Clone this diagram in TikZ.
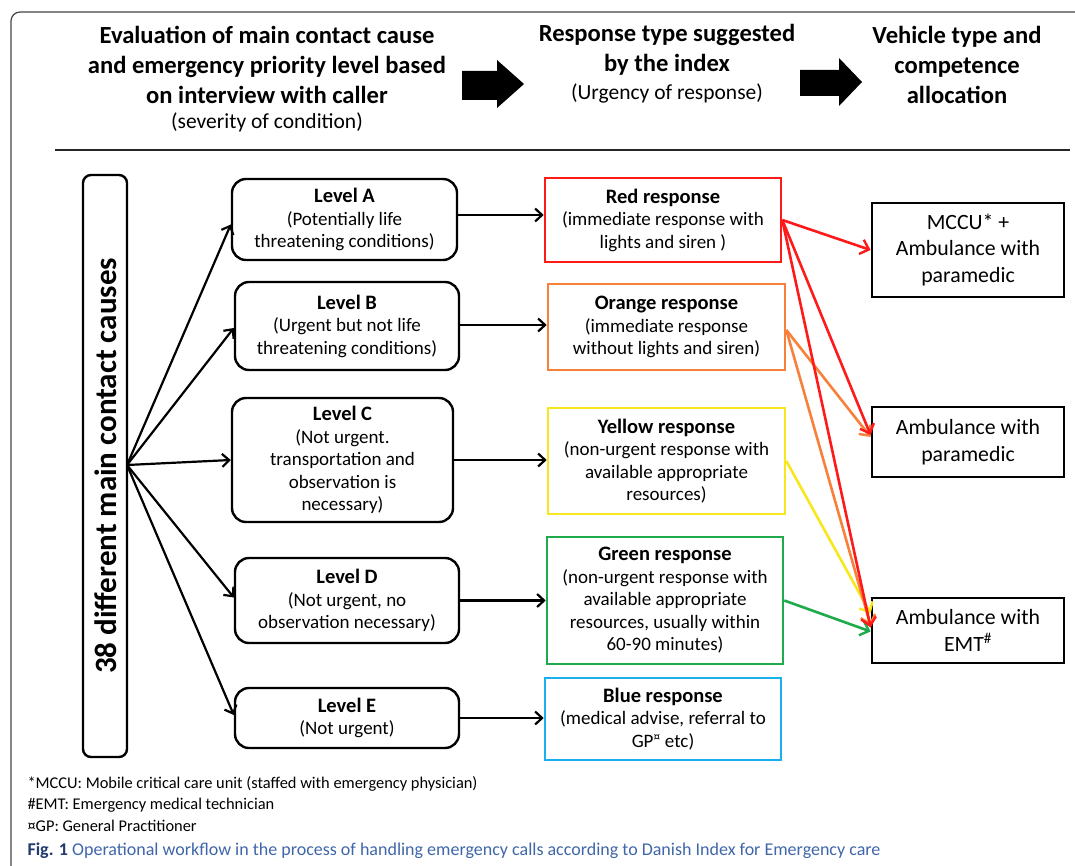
\documentclass[tikz,border=0pt]{standalone}
\usepackage{fontspec}
\setmainfont{Carlito}
\usetikzlibrary{arrows.meta}
\definecolor{cred}{HTML}{FF1A1A}
\definecolor{corange}{HTML}{F7803A}
\definecolor{cyellow}{HTML}{F8E71C}
\definecolor{cgreen}{HTML}{1FAA4B}
\definecolor{cblue}{HTML}{1AAFEF}
\definecolor{capdark}{HTML}{22396B}
\definecolor{capblue}{HTML}{3F66A8}
\definecolor{frame}{HTML}{444444}
\newcommand\bxtitle[1]{{\fontsize{20.5}{23}\selectfont\bfseries #1}}
\begin{document}
\begin{tikzpicture}[x=1pt,y=-1pt,
  lvl/.style={draw, line width=2.4pt, rounded corners=14pt, align=center, inner sep=0pt, font=\fontsize{19}{22.5}\selectfont},
  resp/.style={draw, line width=2.6pt, align=center, inner sep=0pt, font=\fontsize{19}{22.5}\selectfont},
  veh/.style={draw, line width=2.8pt, align=center, inner sep=0pt, minimum width=192pt, font=\fontsize{21.8}{26.5}\selectfont},
  hdr/.style={align=center, font=\fontsize{24.6}{30}\selectfont\bfseries},
  sub/.style={align=center, font=\fontsize{21.5}{24}\selectfont},
  arr/.style={line width=2.2pt, -{Straight Barb[length=7pt,width=13pt,line width=2.2pt]}},
  carr/.style={line width=2.6pt, -{Straight Barb[length=8pt,width=15pt,line width=2.4pt]}},
  foot/.style={anchor=west, font=\fontsize{16.4}{18}\selectfont},
]
\useasboundingbox (0,0) rectangle (1075,866);
% frame
\draw[frame, line width=1.2pt, rounded corners=9pt] (11,866) -- (11,12) -- (1075,12);
\draw[line width=1.5pt, black!85] (55,150) -- (1070,150);

% header
\node[hdr] (h1) at (267,65) {Evaluation of main contact cause\\and emergency priority level based\\on interview with caller};
\node[sub] (s1) at (267,122) {(severity of condition)};
\node[hdr] (h2) at (667,50) {Response type suggested\\by the index};
\node[sub] (s2) at (667,93) {(Urgency of response)};
\node[hdr] (h3) at (957,65) {Vehicle type and\\competence\\allocation};
\fill (462,71) -- (497,71) -- (497,60) -- (524,84) -- (497,108) -- (497,100) -- (462,100) -- cycle;
\fill (800,70) -- (839,70) -- (839,58) -- (862,82) -- (839,106) -- (839,96) -- (800,96) -- cycle;

% left tall box
\node[draw, line width=2.4pt, rounded corners=8pt, minimum width=44pt, minimum height=582pt, inner sep=0pt] (causes) at (105,466) {};
\node[rotate=90, font=\fontsize{31}{34}\selectfont\bfseries] (ctext) at (106,466) {38 different main contact causes};
\coordinate (o) at (127,465);

% levels
\node[lvl, minimum width=225pt, minimum height=81pt] (A) at (344.5,219.5) {\bxtitle{Level A}\\(Potentially life\\threatening conditions)};
\node[lvl, minimum width=224pt, minimum height=88pt] (B) at (347,326) {\bxtitle{Level B}\\(Urgent but not life\\threatening conditions)};
\node[lvl, minimum width=221pt, minimum height=124pt] (C) at (342.5,460) {\bxtitle{Level C}\\(Not urgent.\\transportation and\\observation is\\necessary)};
\node[lvl, minimum width=224pt, minimum height=85pt] (D) at (347,600.5) {\bxtitle{Level D}\\(Not urgent, no\\observation necessary)};
\node[lvl, minimum width=224pt, minimum height=60pt] (E) at (347,718) {\bxtitle{Level E}\\(Not urgent)};

% responses
\node[resp, draw=cred, minimum width=236pt, minimum height=84pt] (R) at (663,220) {\bxtitle{Red response}\\(immediate response with\\lights and siren )};
\node[resp, draw=corange, minimum width=237pt, minimum height=86pt] (O) at (666.5,327) {\bxtitle{Orange response}\\(immediate response\\without lights and siren)};
\node[resp, draw=cyellow, minimum width=237pt, minimum height=106pt] (Y) at (666.5,461) {\bxtitle{Yellow response}\\(non-urgent response with\\available appropriate\\resources)};
\node[resp, draw=cgreen, minimum width=236pt, minimum height=127pt] (G) at (665,600.5) {\bxtitle{Green response}\\(non-urgent response with\\available appropriate\\resources, usually within\\60-90 minutes)};
\node[resp, draw=cblue, minimum width=236pt, minimum height=82pt] (Bl) at (663,719) {\bxtitle{Blue response}\\(medical advise, referral to\\GP\textsuperscript{¤} etc)};

% vehicles
\node[veh, minimum height=94pt] (M) at (968,250) {MCCU* +\\Ambulance with\\paramedic};
\node[veh, minimum height=70pt] (P) at (968,442) {Ambulance with\\paramedic};
\node[veh, minimum height=65pt] (T) at (968,630.5) {Ambulance with\\EMT\textsuperscript{\#}};

% fan arrows
\draw[arr] (o) -- ([yshift=-5pt]A.west);
\draw[arr] (o) -- ([yshift=-2pt]B.west);
\draw[arr] (o) -- (C.west);
\draw[arr] (o) -- ([yshift=3pt]D.west);
\draw[arr] (o) -- ([yshift=3pt]E.west);

% level -> response
\draw[arr] ([yshift=4.5pt]A.east) -- ([yshift=4.5pt]A.east -| R.west);
\draw[arr] ([yshift=1pt]B.east) -- ([yshift=1pt]B.east -| O.west);
\draw[arr] (C.east) -- (C.east -| Y.west);
\draw[arr] (D.east) -- (D.east -| G.west);
\draw[arr] (E.east) -- (E.east -| Bl.west);

% response -> vehicle
\draw[carr, cred] (R.east) -- (M.west);
\draw[carr, cyellow] (Y.east) -- ([yshift=17pt]T.west);
\draw[carr, corange] ([yshift=-3pt]O.east) -- ([yshift=5pt]P.west);
\draw[carr, corange] ([yshift=-3pt]O.east) -- ([yshift=5pt]T.west);
\draw[carr, cgreen] (G.east) -- ([yshift=-1pt]T.west);
\draw[carr, cred] (R.east) -- ([yshift=7pt]P.west);
\draw[carr, cred] (R.east) -- ([yshift=3pt]T.west);

% footnotes
\node[foot] (f1) at (24,784) {*MCCU: Mobile critical care unit (staffed with emergency physician)};
\node[foot] (f2) at (24,805) {\#EMT: Emergency medical technician};
\node[foot] (f3) at (24,826) {¤GP: General Practitioner};
\node[anchor=west, font=\fontsize{18}{20}\selectfont] (cap) at (24,851) {\textcolor{capdark}{\bfseries Fig. 1} \textcolor{capblue}{Operational workflow in the process of handling emergency calls according to Danish Index for Emergency care}};
\end{tikzpicture}
\end{document}
